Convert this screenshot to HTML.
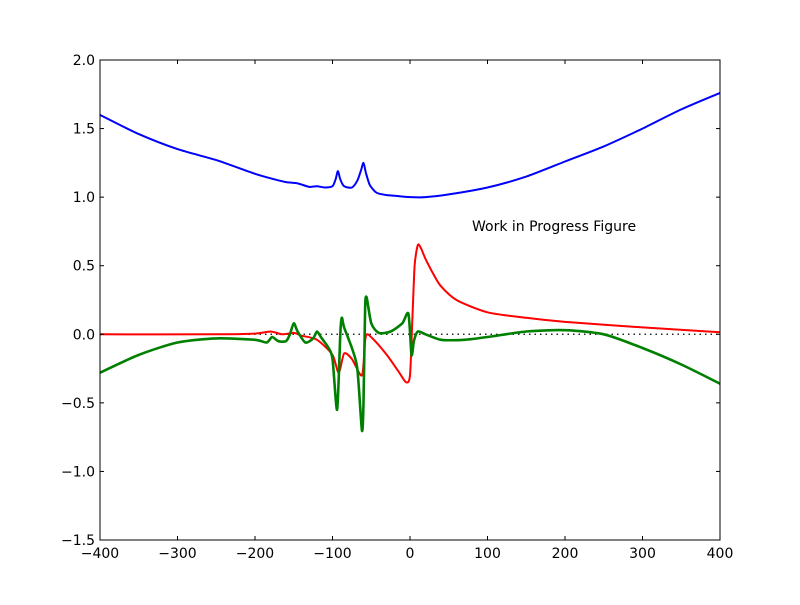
<!DOCTYPE html>
<html><head><meta charset="utf-8"><style>
body{margin:0;background:#fff;}
svg{font-family:"DejaVu Sans","Liberation Sans",sans-serif;}
</style></head><body>
<svg id="chart" width="800" height="600" xmlns="http://www.w3.org/2000/svg">
<rect x="0" y="0" width="800" height="600" fill="#fff"/>
<g id="plot"></g>
</svg>
<script>
const xTicks=[-400,-300,-200,-100,0,100,200,300,400];
const yTicks=[-1.5,-1.0,-0.5,0.0,0.5,1.0,1.5,2.0];
const blueX=[-400,-350,-300,-250,-200,-175,-160,-145,-130,-120,-110,-100,-96,-93,-90,-85,-75,-68,-63,-60,-57,-52,-45,-40,-30,-20,0,20,50,100,150,200,250,300,350,400];
const blueY=[1.6,1.46,1.35,1.27,1.17,1.13,1.11,1.1,1.075,1.08,1.07,1.08,1.13,1.19,1.13,1.08,1.07,1.12,1.2,1.25,1.18,1.09,1.04,1.025,1.015,1.01,1.0,1.0,1.02,1.07,1.15,1.26,1.37,1.5,1.64,1.76];
const redX=[-400,-250,-200,-180,-165,-150,-140,-120,-100,-92,-85,-75,-62,-58,-55,-45,-30,-15,-5,0,3,6,10,14,20,30,40,60,100,150,200,300,400];
const redY=[0,0,0.005,0.02,0,0.01,-0.01,-0.04,-0.15,-0.28,-0.14,-0.18,-0.3,-0.05,0,-0.05,-0.15,-0.27,-0.35,-0.3,0.1,0.5,0.65,0.63,0.55,0.44,0.35,0.25,0.16,0.12,0.09,0.05,0.015];
const greenX=[-400,-350,-300,-250,-200,-185,-178,-170,-160,-155,-150,-145,-135,-125,-120,-115,-105,-100,-94,-90,-88,-85,-75,-68,-62,-60,-58,-56,-50,-40,-25,-10,-2,2,5,10,20,40,70,100,150,200,250,300,350,400];
const greenY=[-0.28,-0.15,-0.06,-0.03,-0.04,-0.06,-0.02,-0.05,-0.05,0,0.08,0.02,-0.06,-0.03,0.02,-0.02,-0.1,-0.18,-0.55,0.0,0.12,0.05,-0.1,-0.25,-0.7,-0.5,0.18,0.27,0.08,0.01,0.02,0.08,0.15,-0.15,-0.05,0.02,0,-0.04,-0.04,-0.02,0.02,0.03,0.0,-0.1,-0.22,-0.36];
const L=100,R=720,T=60,B=540;
const xs=v=>L+(v+400)/800*(R-L);
const ys=v=>T+(2.0-v)/3.5*(B-T);
const NS='http://www.w3.org/2000/svg';
const g=document.getElementById('plot');
function mk(t,a){const e=document.createElementNS(NS,t);for(const k in a)e.setAttribute(k,a[k]);g.appendChild(e);return e;}
const zl=mk('line',{x1:L,x2:R,y1:ys(0),y2:ys(0),stroke:'#000','stroke-dasharray':'1.5,4','stroke-width':1.2});


function series(X,Y,c,name,w){
const P=X.map((x,i)=>[xs(x),ys(Y[i])]);
let d='M'+P[0][0].toFixed(1)+','+P[0][1].toFixed(1);
for(let i=0;i<P.length-1;i++){const p0=P[Math.max(0,i-1)],p1=P[i],p2=P[i+1],p3=P[Math.min(P.length-1,i+2)];
const k=1/8;
const c1=[p1[0]+(p2[0]-p0[0])*k,p1[1]+(p2[1]-p0[1])*k],c2=[p2[0]-(p3[0]-p1[0])*k,p2[1]-(p3[1]-p1[1])*k];
d+='C'+c1[0].toFixed(1)+','+c1[1].toFixed(1)+' '+c2[0].toFixed(1)+','+c2[1].toFixed(1)+' '+p2[0].toFixed(1)+','+p2[1].toFixed(1);}
const p=mk('path',{d:d,fill:'none',stroke:c,'stroke-width':w,'stroke-linejoin':'round'});

}
series(blueX,blueY,'#0000ff','blue-series',2);
series(redX,redY,'#ff0000','red-series',2);
series(greenX,greenY,'#008000','green-series',2.6);
const fr=mk('rect',{x:L,y:T,width:R-L,height:B-T,fill:'none',stroke:'#000','stroke-width':1});


xTicks.forEach(v=>{const x=xs(v);
mk('line',{x1:x,x2:x,y1:B,y2:B-4,stroke:'#000'});mk('line',{x1:x,x2:x,y1:T,y2:T+4,stroke:'#000'});
const t=mk('text',{x:x,y:B+18,'text-anchor':'middle','font-size':14});t.textContent=(v<0?'\u2212'+(-v):v);

});
yTicks.forEach(v=>{const y=ys(v);
mk('line',{x1:L,x2:L+4,y1:y,y2:y,stroke:'#000'});mk('line',{x1:R,x2:R-4,y1:y,y2:y,stroke:'#000'});
const t=mk('text',{x:L-5,y:y+5,'text-anchor':'end','font-size':14});t.textContent=(v<0?'\u2212':'')+Math.abs(v).toFixed(1);

});
const ann=mk('text',{x:472,y:231,'font-size':14});ann.textContent='Work in Progress Figure';


</script>
</body></html>
